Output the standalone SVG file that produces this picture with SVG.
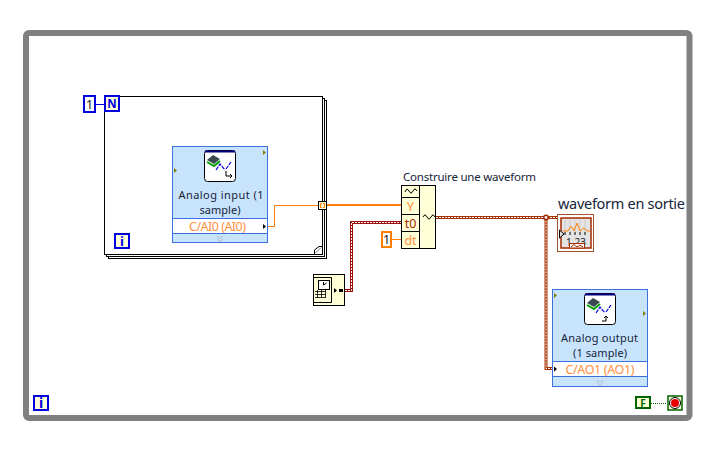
<svg xmlns="http://www.w3.org/2000/svg" width="727" height="457" viewBox="0 0 727 457">
<defs><style>
text{font-family:"Noto Sans","Open Sans","DejaVu Sans",sans-serif}
.lbl{font-size:11px;fill:#16243a;text-anchor:middle}
.ch{font-size:12.500px;fill:#ff9040;text-anchor:middle}
.exp{fill:#c8e4fd;stroke:#3c6fe0;stroke-width:1}
.row{fill:#fff;stroke:#3c6fe0;stroke-width:1}
.idx{fill:#ffffd8;stroke:#0000e0;stroke-width:2}
.tri{fill:#808000}
.wfo{fill:none;stroke:#a83000;stroke-width:3}
.wft{fill:none;stroke:#a00c0c;stroke-width:3}
.wfi{fill:none;stroke:#fff;stroke-width:1;stroke-dasharray:2 1}
.ico{fill:#fff;stroke:#000;stroke-width:1}
.chev{stroke:#b0b8c8;fill:none}
</style></defs>
<rect width="727" height="457" fill="#fff"/>
<g id="while-loop">
<rect x="26" y="33" width="663.500" height="385" rx="3" fill="#fff" stroke="#808080" stroke-width="6"/>
<rect x="34" y="396" width="14" height="14" class="idx"/><text x="41" y="408" font-size="14" font-weight="bold" fill="#0000e0" text-anchor="middle">i</text>
</g>
<g id="for-loop">
<rect x="108.500" y="100.500" width="218" height="158" fill="#fff" stroke="#000"/>
<rect x="106.500" y="98.500" width="218" height="158" fill="#fff" stroke="#000"/>
<rect x="104.500" y="96.500" width="218" height="158" fill="#fff" stroke="#000"/>
<path d="M314.500 254V250L319 246.500H322" fill="none" stroke="#000"/><path d="M315 253.500L321 247.500" stroke="#888"/>
<rect x="84" y="96" width="11" height="16" fill="#fff" stroke="#0000e0" stroke-width="2"/><text x="89.500" y="109" font-size="12.500" fill="#222" text-anchor="middle">1</text>
<path d="M95 104.500H105" stroke="#0000e0"/>
<rect x="105" y="96" width="14" height="15" class="idx"/><text x="112" y="108" font-size="11.500" font-weight="bold" fill="#0000e0" text-anchor="middle">N</text>
<rect x="115" y="234" width="14" height="14" class="idx"/><text x="122" y="246" font-size="13" font-weight="bold" fill="#0000e0" text-anchor="middle">i</text>
</g>
<g id="connectors" fill="none">
<path d="M268 226.500H274.500V205.500H318" stroke="#ff8000" stroke-width="1"/>
<path d="M326 205H401" stroke="#ff8000" stroke-width="2"/>
<path d="M391 239.500H401" stroke="#ff8000" stroke-width="1"/>
<path d="M345 290.500H351.500V222.500H401" class="wft"/><path d="M345 290.500H351.500V222.500H401" class="wfi"/>
<path d="M436 217.500H558M546 217.500V368.500H553" class="wfo"/>
<path d="M436 217.500H558M546 217.500V368.500H553" class="wfi"/>
<circle cx="546" cy="217.500" r="2.200" fill="#fff" stroke="#a42a00" stroke-width="1.500"/>
<path d="M552 366L556 369L552 372Z" fill="#d00000"/>
<path d="M651 403.500H667" stroke="#006400" stroke-dasharray="1 1"/>
</g>
<g id="analog-input">
<rect x="172.500" y="146.500" width="95" height="96" class="exp"/>
<rect x="172.500" y="218.500" width="95" height="15" class="row"/>
<rect x="204.500" y="150.500" width="31" height="31" rx="3" class="ico"/><path d="M205 151.500H235" stroke="#000080" stroke-width="2"/>
<path d="M207 160L213 155L220 159L214 164Z" fill="#3a4a50"/><path d="M207 162L214 166L220 161" stroke="#00a000" stroke-width="2" fill="none"/>
<path d="M216 170L220 164L225 170M226 169L231 162" stroke="#0000e0" stroke-width="1.200" fill="none" stroke-dasharray="4 1"/>
<path d="M226 171V176H232M230 174L232 176L230 178" stroke="#000" fill="none"/>
<path class="tri" d="M263 150L266 152.500L263 155Z"/><path class="tri" d="M174 168L177 170.500L174 173Z"/>
<text class="lbl" x="221" y="199" textLength="85">Analog input (1</text><text class="lbl" x="220" y="214" textLength="41">sample)</text>
<text class="ch" x="217.500" y="231" textLength="57">C/AI0 (AI0)</text>
<path d="M263 224L266 226.500L263 229Z" fill="#000"/>
<path class="chev" d="M217 236L220 238.500L223 236M217 239L220 241.500L223 239"/>
</g>
<g id="tunnel"><rect x="318.500" y="201.500" width="8" height="8" fill="#ffffd8" stroke="#000"/><path d="M322 203.500H320.500V207.500H322M323 203.500H324.500V207.500H323" fill="none" stroke="#ff8000"/></g>
<g id="timestamp">
<rect x="313.500" y="274.500" width="31" height="31" fill="#ffffd8" stroke="#000"/>
<path d="M314 277.500H331.500V302.500H314" fill="none" stroke="#000"/>
<rect x="318.500" y="280.500" width="11" height="9" fill="#fff" stroke="#000"/><path d="M323.500 285V282M323.500 285L326.500 283" stroke="#000"/>
<path d="M315 291.500H326M315 294.500H326M315 297.500H326M317.500 290V298M321.500 290V298M325.500 290V298" stroke="#000" stroke-width=".8"/>
<path d="M334 288L337 290.500L334 293Z" fill="#000"/><rect x="339" y="289" width="4" height="3" fill="#000"/>
</g>
<g id="build-waveform">
<text x="469.500" y="181" font-size="11.500" fill="#16243a" text-anchor="middle" textLength="133">Construire une waveform</text>
<rect x="401.500" y="185.500" width="34" height="63" fill="#ffffd8" stroke="#000"/>
<path d="M419.500 185.500V248.500M401.500 197.500H419.500M401.500 214.500H419.500M401.500 231.500H419.500" stroke="#000"/>
<path d="M405 192Q407 187 409 191T413 191T417 191" fill="none" stroke="#000"/>
<path d="M423 217Q425 213 427 217T431 217T435 217" fill="none" stroke="#000"/>
<text x="410.500" y="211" font-size="13" fill="#ff9040" text-anchor="middle">Y</text>
<text x="410.500" y="228" font-size="12.500" fill="#a42a00" text-anchor="middle">t0</text>
<text x="410.500" y="245" font-size="12.500" fill="#ff9040" text-anchor="middle">dt</text>
</g>
<g id="const-dt"><rect x="382" y="232" width="9" height="15" fill="#fff" stroke="#ff8000" stroke-width="2"/><text x="386.500" y="244" font-size="12.500" fill="#222" text-anchor="middle">1</text></g>
<g id="waveform-output">
<text x="558" y="209" font-size="14.500" fill="#16243a" textLength="127">waveform en sortie</text>
<rect x="557.500" y="214.500" width="36" height="37" fill="#fff" stroke="#a0522d" stroke-width="1"/>
<rect x="561" y="218" width="30" height="30" fill="#e4e4e4" stroke="#a42a00" stroke-width="1.500"/>
<path d="M565 220V232M570 220V232M575 220V232M580 220V232M585 220V232" stroke="#ccc"/>
<path d="M563 231H568L571 226L574 231L577 223L580 231L584 228L587 231H590" fill="none" stroke="#ff8000"/>
<path d="M565 232V235M570 232V235M575 232V235M580 232V235M585 232V235" stroke="#000"/>
<text x="576" y="246" font-size="10" fill="#222" text-anchor="middle">1.23</text>
<path d="M569.500 248V243.500H584.500V248Z" fill="#fff" stroke="#a42a00"/>
<path d="M571 247L574 244.500L577 247L580 245L583 247" fill="none" stroke="#a42a00"/>
<path d="M559.500 230L564 234L559.500 238Z" fill="#ddd" stroke="#000"/>
</g>
<g id="analog-output">
<rect x="552.500" y="289.500" width="95" height="97" class="exp"/>
<rect x="552.500" y="361.500" width="95" height="15" class="row"/>
<rect x="584.500" y="293.500" width="31" height="31" rx="3" class="ico"/><path d="M585 294.500H615" stroke="#000080" stroke-width="2"/>
<path d="M587 303L593 298L600 302L594 307Z" fill="#3a4a50"/><path d="M587 305L594 309L600 304" stroke="#00a000" stroke-width="2" fill="none"/>
<path d="M596 313L600 307L605 313M606 312L611 305" stroke="#0000e0" stroke-width="1.200" fill="none" stroke-dasharray="4 1"/>
<path d="M602 321H606V316M604 318L606 316L608 318" stroke="#000" fill="none"/>
<path class="tri" d="M643 311L646 313.500L643 316Z"/><path class="tri" d="M554 293L557 295.500L554 298Z"/>
<text class="lbl" x="599.500" y="342" textLength="77">Analog output</text><text class="lbl" x="600" y="357" textLength="54">(1 sample)</text>
<text class="ch" x="600" y="374" textLength="69">C/AO1 (AO1)</text>
<path d="M554 366.500L557 369L554 371.500Z" fill="#000"/>
<path class="chev" d="M597 380L600 382.500L603 380M597 383L600 385.500L603 383"/>
</g>
<g id="stop">
<rect x="636" y="397" width="14" height="11" fill="#ffffd8" stroke="#006400" stroke-width="2"/><text x="643" y="407" font-size="10" font-weight="bold" fill="#006400" text-anchor="middle">F</text>
<rect x="668" y="396" width="14" height="14" fill="#ffffd8" stroke="#006400" stroke-width="1.500"/>
<circle cx="675" cy="403" r="5.500" fill="#fff" stroke="#000"/><circle cx="675" cy="403" r="4" fill="#e80000"/>
</g>
</svg>
